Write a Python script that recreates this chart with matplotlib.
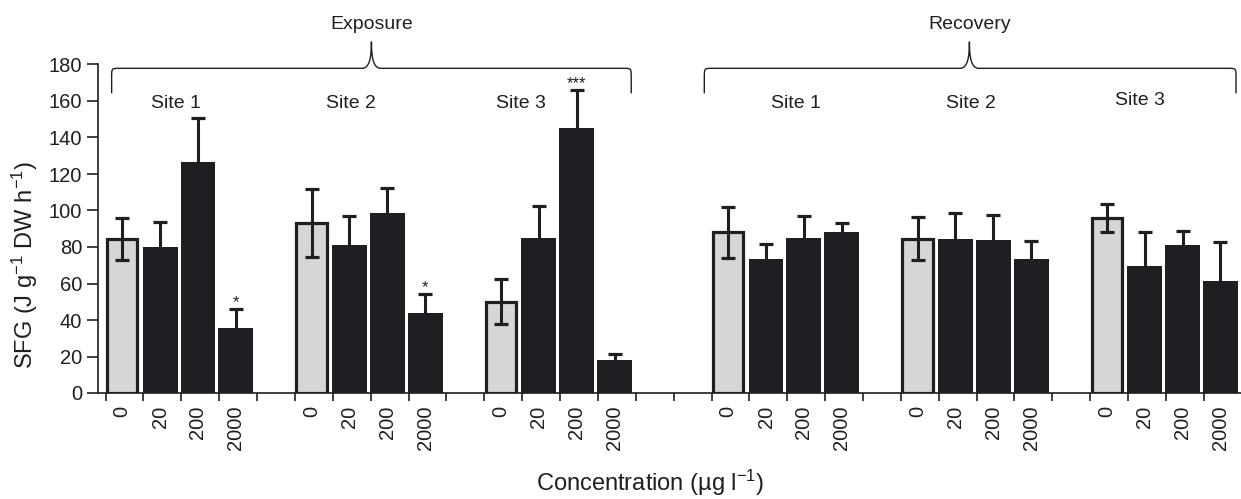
import numpy as np
import matplotlib.pyplot as plt
from matplotlib.path import Path
from matplotlib.patches import PathPatch

plt.rcParams.update({'font.family': 'Liberation Sans', 'font.size': 14,
                     'mathtext.fontset': 'custom', 'mathtext.rm': 'Liberation Sans',
                     'mathtext.default': 'regular'})

conc = ['0', '20', '200', '2000']
phases = ['Exposure', 'Recovery']
sites = ['Site 1', 'Site 2', 'Site 3']

# SFG means and SE, per phase and site (conc 0, 20, 200, 2000)
exp_s1 = [84.2, 80.0, 126.7, 35.8]
exp_s1_err = [11.5, 13.5, 24.0, 10.2]
exp_s2 = [93.0, 81.1, 98.8, 43.7]
exp_s2_err = [18.6, 16.0, 13.7, 10.5]
exp_s3 = [50.0, 84.8, 145.4, 18.1]
exp_s3_err = [12.4, 17.7, 20.5, 3.0]
rec_s1 = [88.0, 73.6, 84.8, 88.2]
rec_s1_err = [14.0, 8.2, 12.2, 5.1]
rec_s2 = [84.6, 84.2, 84.0, 73.2]
rec_s2_err = [11.7, 14.3, 13.5, 10.3]
rec_s3 = [95.7, 69.6, 81.3, 61.5]
rec_s3_err = [7.6, 18.6, 7.6, 21.4]

# significance marks: (group index, bar index, label)
signif = [(0, 3, '*'), (1, 3, '*'), (2, 2, '***')]

groups = [exp_s1, exp_s2, exp_s3, rec_s1, rec_s2, rec_s3]
errs = [exp_s1_err, exp_s2_err, exp_s3_err, rec_s1_err, rec_s2_err, rec_s3_err]
starts = [0, 5, 10, 16, 21, 26]

dark = '#1e1f22'
light = '#d5d6d8'

fig = plt.figure(figsize=(12.41, 4.99), dpi=100)
ax = fig.add_axes([98/1241, 106/499, 1143.7/1241, 328.5/499])

centers = []
for g, (vals, err, s) in enumerate(zip(groups, errs, starts)):
    x = s + np.arange(4) + 0.44
    centers.extend(x)
    ax.bar(x[0], vals[0], width=0.8, color=light, edgecolor=dark, linewidth=2.3, zorder=2)
    ax.bar(x[1:], vals[1:], width=0.92, color=dark, edgecolor=dark, linewidth=0, zorder=2)
    ax.errorbar(x, vals, yerr=err, fmt='none', ecolor=dark, elinewidth=2.2,
                capsize=4.7, capthick=2.3, zorder=3)

for g, i, lab in signif:
    x = starts[g] + i + 0.44
    top = groups[g][i] + errs[g][i]
    ax.text(x, top + 1, lab, ha='center', va='baseline', fontsize=12, color=dark)

ax.set_ylim(0, 180)
ax.set_yticks(np.arange(0, 181, 20))
ax.set_xlim(-0.2, 30.0)
ax.set_xticks(np.arange(0, 31))
ax.set_xticklabels([])
ax.set_xticks(centers, minor=True)
ax.set_xticklabels(conc * 6, minor=True, rotation=90, va='top')
ax.tick_params(axis='x', which='major', length=6, width=1.2, color=dark)
ax.tick_params(axis='x', which='minor', length=0, pad=9, labelsize=14.5, labelcolor=dark)
ax.tick_params(axis='y', length=8, width=1.2, color=dark, labelsize=14.5, labelcolor=dark)
for sp in ['top', 'right']:
    ax.spines[sp].set_visible(False)
for sp in ['left', 'bottom']:
    ax.spines[sp].set_linewidth(1.2)
    ax.spines[sp].set_color(dark)


def brace(x0, x1, xm, ytop=177.9, yend=164.2, ypeak=192.5):
    rx, ry, dm = 0.2, 5.0, 0.25
    verts = [(x0, yend), (x0, ytop - ry),
             (x0, ytop), (x0, ytop), (x0 + rx, ytop),
             (xm - dm, ytop),
             (xm - dm * 0.2, ytop), (xm, ytop + (ypeak - ytop) * 0.4), (xm, ypeak),
             (xm, ytop + (ypeak - ytop) * 0.4), (xm + dm * 0.2, ytop), (xm + dm, ytop),
             (x1 - rx, ytop),
             (x1, ytop), (x1, ytop), (x1, ytop - ry),
             (x1, yend)]
    codes = [Path.MOVETO, Path.LINETO,
             Path.CURVE4, Path.CURVE4, Path.CURVE4,
             Path.LINETO,
             Path.CURVE4, Path.CURVE4, Path.CURVE4,
             Path.CURVE4, Path.CURVE4, Path.CURVE4,
             Path.LINETO,
             Path.CURVE4, Path.CURVE4, Path.CURVE4,
             Path.LINETO]
    ax.add_patch(PathPatch(Path(verts, codes), fill=False, edgecolor=dark,
                           linewidth=1.0, clip_on=False))


brace(0.16, 13.88, 7.02)
brace(15.81, 29.85, 22.81)
ax.text(7.02, 202, phases[0], ha='center', va='center', fontsize=14, color=dark, clip_on=False)
ax.text(22.81, 202, phases[1], ha='center', va='center', fontsize=14, color=dark, clip_on=False)

site_x = [1.86, 6.49, 10.96, 18.24, 22.84, 27.32]
site_y = [158.4, 158.4, 158.4, 158.6, 158.6, 160.3]
for k in range(6):
    ax.text(site_x[k], site_y[k], sites[k % 3], ha='center', va='center',
            fontsize=14, color=dark)

fig.text(25/1241, 1 - 265/499, 'SFG (J g$^{-1}$ DW h$^{-1}$)', rotation=90,
         ha='center', va='center', fontsize=17, color=dark)
fig.text(650/1241, 8/499, 'Concentration (µg l$^{-1}$)',
         ha='center', va='baseline', fontsize=17, color=dark)

fig.savefig('out.png', dpi=100)
